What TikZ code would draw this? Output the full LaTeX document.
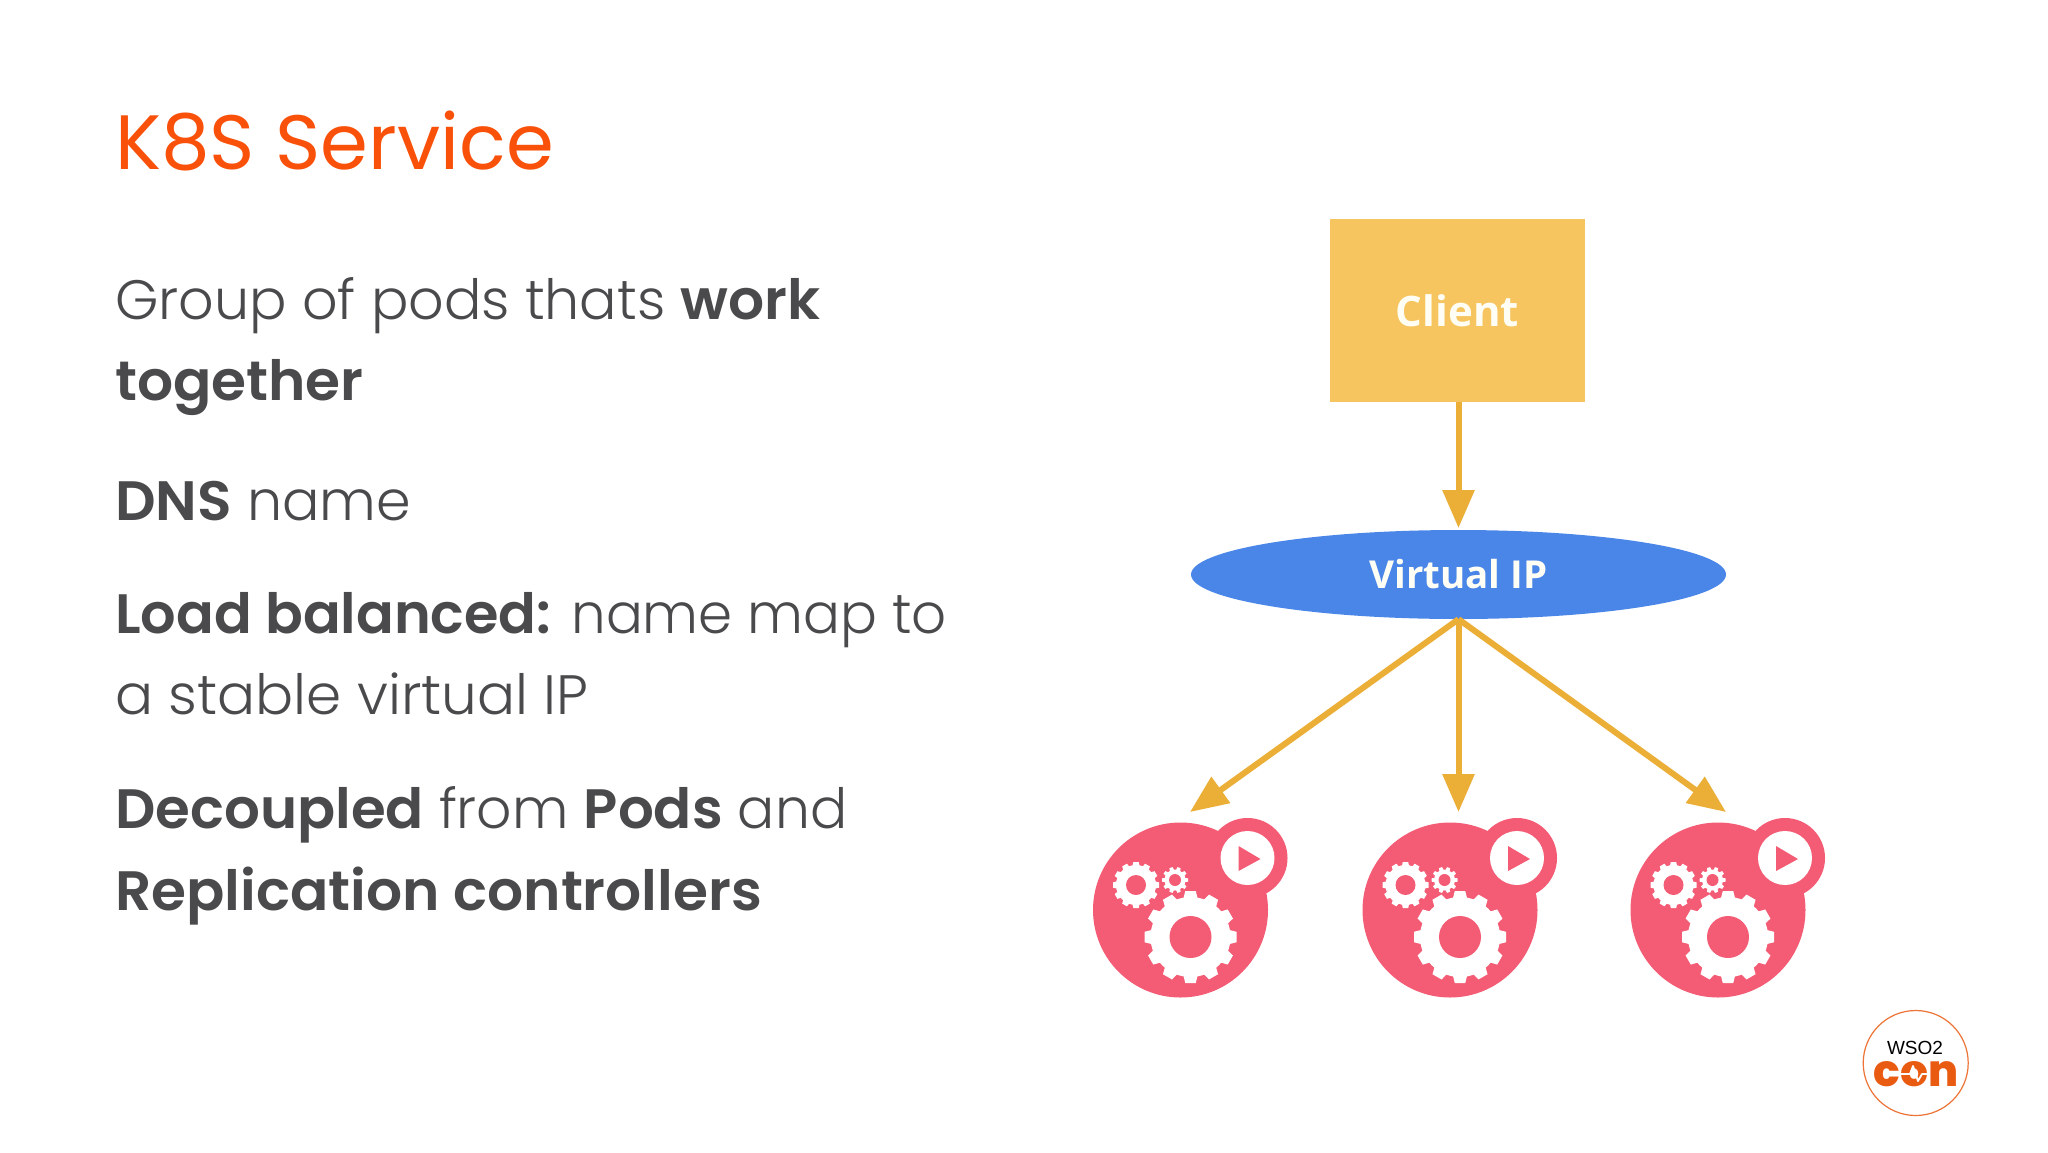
\documentclass[tikz,border=0pt]{standalone}
\usepackage{fontspec}
\usetikzlibrary{arrows.meta,shapes.geometric}
\newfontfamily\bodyfont{Poppins}[UprightFont=* Light,BoldFont=* SemiBold,BoldFeatures={FakeStretch=1.02}]
\newfontfamily\titlefont{Poppins}[UprightFont=*]
\newfontfamily\diagfont{Open Sans}[UprightFont=* Bold]
\newfontfamily\confont{Poppins}[UprightFont=* ExtraBold]
\newfontfamily\wsofont{Liberation Sans}
\definecolor{titleor}{HTML}{F9510A}
\definecolor{bodygray}{HTML}{4A4A4C}
\definecolor{flow}{HTML}{EBAE36}
\definecolor{clientfill}{HTML}{F6C55F}
\definecolor{vipblue}{HTML}{4A86E8}
\definecolor{podpink}{HTML}{F45B74}
\definecolor{logoor}{HTML}{EA5B12}
\tikzset{
  x=1pt,y=-1pt,
  line/.style={anchor=base west,inner sep=0pt,text=bodygray,font=\bodyfont\fontsize{55.5}{60}\selectfont},
  flowline/.style={draw=flow,line width=6pt,-{Triangle[length=38pt,width=31pt]}},
  diagtext/.style={text=white!96!yellow,font=\diagfont},
  podbody/.style={circle,fill=podpink,inner sep=0pt,minimum size=175pt},
  pod/.pic={
    \fill[podpink] (67,-52) circle (40);
    \fill[white] (67,-52) circle (27);
    \fill[podpink] (58,-64) -- (58,-39) -- (80,-51) -- cycle;
    \foreach \cx/\cy/\rr/\ro/\rh/\nn/\tw in {10/27/40/46/21/12/7, -44.5/-25/20/23/10/12/3.6, -5.5/-30/10.5/13/6/10/2.2}{
      \fill[white] (\cx,\cy) circle (\rr);
      \foreach \k in {1,...,\nn}{
        \fill[white,shift={(\cx,\cy)},rotate=\k*360/\nn]
          (\rr-1,-\tw) -- (\ro,-\tw*.75) -- (\ro,\tw*.75) -- (\rr-1,\tw) -- cycle;
      }
      \fill[podpink] (\cx,\cy) circle (\rh);
    }
  }
}
\begin{document}
\begin{tikzpicture}
\useasboundingbox (0,0) rectangle (2048,1152);
\fill[white] (0,0) rectangle (2048,1152);
% title and text
\node[anchor=base west,inner sep=0pt,text=titleor,font=\titlefont\fontsize{77}{80}\selectfont] (title) at (115,169) {K8S Service};
\node[line] (l1) at (115,319) {Group of pods thats \textbf{work}};
\node[line] (l2) at (115,400) {\textbf{together}};
\node[line] (l3) at (115,520) {\textbf{DNS} name};
\node[line,xscale=.985] (l4) at (115,633) {\textbf{Load balanced:} name map to};
\node[line,xscale=1.017] (l5) at (115,714) {a stable virtual IP};
\node[line,xscale=.994] (l6) at (115,828) {\textbf{Decoupled} from \textbf{Pods} and};
\node[line] (l7) at (115,910) {\textbf{Replication controllers}};
% diagram
\node[rectangle,fill=clientfill,minimum width=254.5pt,minimum height=183pt,inner sep=0pt,diagtext] (client) at (1457.5,310.5) {\fontsize{42}{46}\selectfont Client};
\node[ellipse,fill=vipblue,minimum width=535pt,minimum height=89pt,inner sep=0pt,diagtext] (vip) at (1458.5,574.5) {\fontsize{38.5}{42}\selectfont Virtual IP};
\node[podbody] (pod1) at (1180.5,910) {};
\node[podbody] (pod2) at (1450,910) {};
\node[podbody] (pod3) at (1718,910) {};
\path (pod1.center) pic {pod};
\path (pod2.center) pic {pod};
\path (pod3.center) pic {pod};
\coordinate (tipc) at (1458.5,528);
\coordinate (tip1) at (1190,812);
\coordinate (tip2) at (1458.5,812);
\coordinate (tip3) at (1726,812);
\draw[flowline] (client.south -| tipc) -- (tipc);
\draw[flowline] (vip.south) -- (tip1);
\draw[flowline] (vip.south) -- (tip2);
\draw[flowline] (vip.south) -- (tip3);
% logo
\node[circle,draw=logoor!85!white,line width=1.2pt,fill=white,minimum size=105pt,inner sep=0pt] (logo) at (1915.7,1063) {};
\node[inner sep=0pt,text=black,font=\wsofont\fontsize{19}{20}\selectfont] (wso) at (1915,1048) {WSO2};
\node[anchor=base,inner sep=0pt,text=logoor,font=\confont\fontsize{44}{48}\selectfont] (con) at (1916,1086) {con};
\draw[white,line width=1.8pt,line join=round] (con.base -| 1900,0) ++(0,-12) -- ++(10,0) -- ++(3,-8) -- ++(5,15) -- ++(4,-7) -- ++(5,0);
\end{tikzpicture}
\end{document}
